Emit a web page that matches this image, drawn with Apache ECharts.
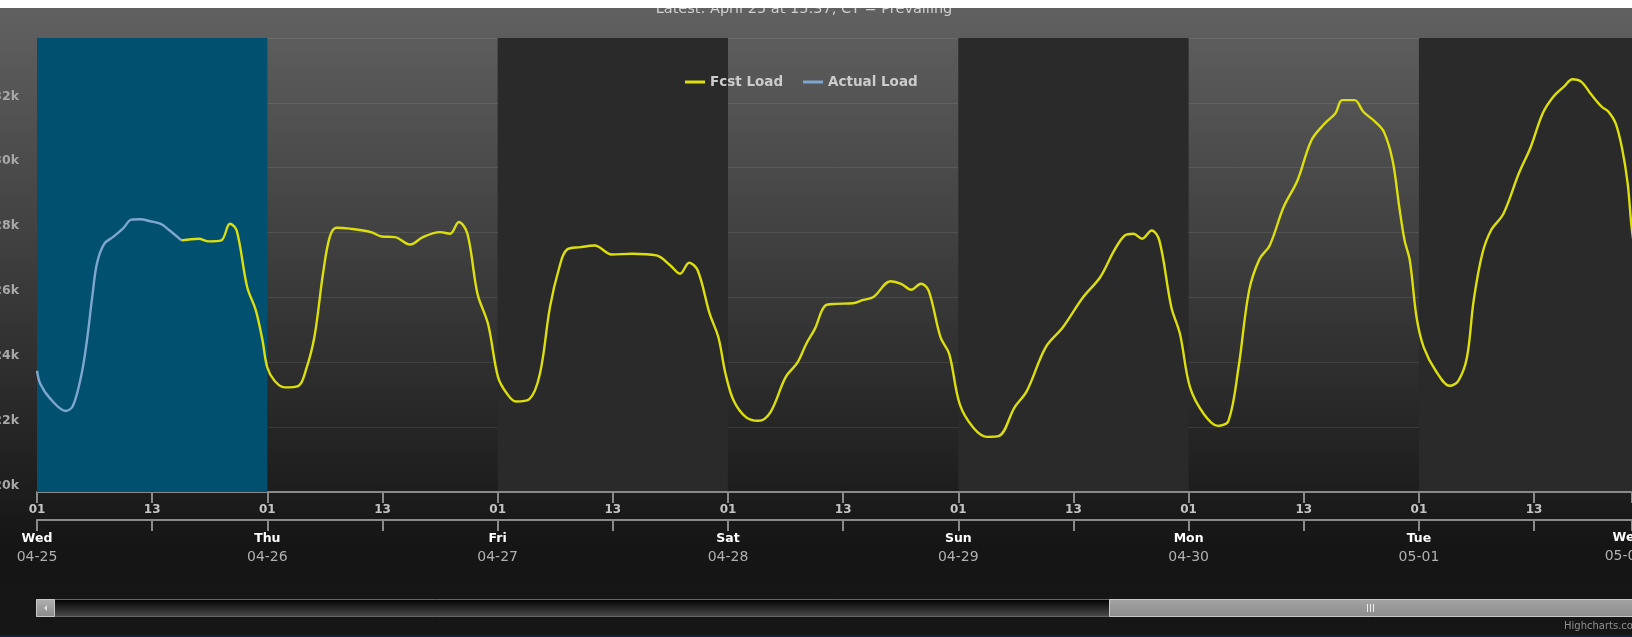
<!DOCTYPE html>
<html><head><meta charset="utf-8">
<script src="https://cdn.jsdelivr.net/npm/echarts@6/dist/echarts.min.js"></script>
<style>html,body{margin:0;padding:0;background:#fff;overflow:hidden}#c{width:1632px;height:637px}</style>
</head><body><div id="c"></div>
<script>
// hours since Wed 04-25 01:00
const actualHours = [0,0.35,1.4,3.0,3.75,4.65,5.2,5.75,6.25,7.0,7.9,8.95,9.85,10.75,11.8,12.9,13.8,15.05];
const actualValues = [23740,23330,22870,22500,22660,23650,24670,26000,27050,27650,27860,28120,28400,28410,28350,28270,28070,27760];

const fcstHours = [15.05,16.85,17.9,19.2,20.1,20.8,21.9,22.8,23.5,24.0,24.75,25.8,27.25,28.0,28.9,29.8,30.5,31.2,32.6,34.8,35.9,37.3,38.9,40.2,42.0,43.05,43.95,44.85,45.9,47.0,48.05,49.0,49.9,51.3,52.4,53.45,54.4,55.2,56.65,58.1,59.9,62.0,64.55,66.0,67.0,67.95,68.85,70.1,71.0,71.75,72.6,73.9,75.15,76.4,78.0,79.25,80.15,81.05,82.15,83.2,85.0,86.1,87.15,88.95,90.05,91.1,92.1,92.9,94.15,95.05,96.15,97.55,99.0,100.25,101.85,103.15,105.1,106.9,109.0,110.8,112.25,113.35,114.25,115.15,116.15,116.95,118.2,119.1,120.15,121.6,123.05,124.15,125.2,126.3,127.4,128.45,129.9,131.35,132.8,134.2,135.3,136.0,137.3,138.2,139.45,140.35,141.25,141.95,142.5,143.05,143.75,144.5,145.75,147.2,148.1,149.0,149.7,150.6,151.5,152.8,154.4,155.65,156.9,158.0,159.1,160.0,160.9,162.0,163.05,163.75,164.5,165.2,165.75,166.2,167.0];
const fcstValues = [27760,27810,27730,27760,28270,28070,26320,25600,24670,23840,23430,23225,23275,23740,24770,26730,27860,28150,28120,28015,27880,27860,27630,27860,28015,27965,28325,27965,26110,25180,23535,23020,22790,22865,23640,25700,26900,27470,27550,27600,27325,27345,27295,26985,26730,27070,26830,25490,24770,23640,22815,22300,22195,22450,23535,23995,24565,25030,25750,25800,25820,25925,26010,26500,26420,26235,26420,26215,24770,24260,22710,21990,21700,21730,22605,23120,24460,25080,26005,26630,27450,27910,27965,27810,28065,27760,25700,24875,23225,22400,22040,22195,23840,26210,27190,27605,28790,29615,30850,31370,31680,32085,32085,31725,31415,31105,30230,28790,27760,27140,25390,24460,23740,23275,23430,24150,25900,27345,28065,28580,29820,30640,31680,32190,32500,32730,32655,32240,31880,31725,31365,30540,29510,28065,26500];

const hourTickLabels = ['01', '13'];
const dayNames = ['Wed', 'Thu', 'Fri', 'Sat', 'Sun', 'Mon', 'Tue', 'Wed'];
const dayDates = ['04-25', '04-26', '04-27', '04-28', '04-29', '04-30', '05-01', '05-02'];
const yMin = 20000, yMax = 34000, yStep = 2000;
const seriesNames = ['Fcst Load', 'Actual Load'];
const titleText = 'Latest: April 25 at 15:37, CT = Prevailing';

const FONT = 'DejaVu Sans';
const X_MAX = 166.2;
const chart = echarts.init(document.getElementById('c'), null, {renderer: 'canvas'});

const axisLineStyle = {color: '#8a8a8a', width: 2};
const dayBandColors = ['rgba(0,0,0,0)', 'rgba(0,0,0,0)', '#2a2a2a', 'rgba(0,0,0,0)', '#2a2a2a', 'rgba(0,0,0,0)', '#2a2a2a'];

const option = {
  animation: false,
  backgroundColor: new echarts.graphic.LinearGradient(0, 0, 0, 1, [
    {offset: 0, color: '#626262'}, {offset: 0.86, color: '#151515'}, {offset: 1, color: '#161616'}
  ]),
  grid: {left: 37, right: 0, top: 38, bottom: 145, containLabel: false, outerBoundsMode: 'none'},
  legend: {
    data: seriesNames, left: 680, top: 70, icon: 'rect', itemWidth: 20, itemHeight: 3, itemGap: 20,
    textStyle: {color: '#cccccc', fontWeight: 'bold', fontSize: 13.5, fontFamily: FONT}
  },
  xAxis: [
    {
      type: 'value', min: 0, max: X_MAX, interval: 12, position: 'bottom',
      axisLine: {show: true, lineStyle: axisLineStyle},
      axisTick: {show: true, length: 11, lineStyle: axisLineStyle},
      axisLabel: {
        margin: 12, color: '#c4c4c4', fontWeight: 'bold', fontSize: 12, fontFamily: FONT,
        showMinLabel: true, showMaxLabel: true,
        formatter: v => (Math.abs(v % 12) < 1e-6 && v <= X_MAX) ? hourTickLabels[Math.round(v / 12) % 2] : ''
      },
      splitLine: {show: false}
    },
    {
      type: 'value', min: 0, max: X_MAX, interval: 12, position: 'bottom', offset: 28,
      axisLine: {show: true, lineStyle: axisLineStyle},
      axisTick: {show: true, length: 11, lineStyle: axisLineStyle},
      axisLabel: {
        margin: 11, showMinLabel: true, showMaxLabel: true,
        formatter: v => {
          if (Math.abs(v % 24) > 1e-6) return '';
          const i = Math.round(v / 24);
          return '{d|' + dayNames[i] + '}\n{m|' + dayDates[i] + '}';
        },
        rich: {
          d: {color: '#ffffff', fontWeight: 'bold', fontSize: 12.5, fontFamily: FONT, lineHeight: 16, align: 'center'},
          m: {color: '#b0b0b0', fontSize: 14, fontFamily: FONT, lineHeight: 21, align: 'center'}
        }
      },
      splitLine: {show: false}
    },
    {
      type: 'value', min: 0, max: X_MAX, interval: 24, position: 'top',
      axisLine: {show: false}, axisTick: {show: false}, axisLabel: {show: false},
      splitLine: {show: false},
      splitArea: {show: true, areaStyle: {color: dayBandColors}}
    }
  ],
  yAxis: {
    type: 'value', min: yMin, max: yMax, interval: yStep,
    axisLine: {show: false}, axisTick: {show: false},
    axisLabel: {
      formatter: v => (v / 1000) + 'k', showMaxLabel: false,
      color: '#a8a8a8', fontWeight: 'bold', fontSize: 12.5, fontFamily: FONT, margin: 18,
      verticalAlign: 'bottom', lineHeight: 13
    },
    splitLine: {lineStyle: {color: 'rgba(255,255,255,0.09)', width: 1}}
  },
  series: [
    {
      name: seriesNames[0], type: 'line', xAxisIndex: 0, z: 3,
      data: fcstHours.map((h, i) => [h, fcstValues[i]]),
      smooth: 0.35, showSymbol: false, symbol: 'none',
      lineStyle: {color: '#DDDF0D', width: 2.4}, itemStyle: {color: '#DDDF0D'}
    },
    {
      name: seriesNames[1], type: 'line', xAxisIndex: 0, z: 2,
      data: actualHours.map((h, i) => [h, actualValues[i]]),
      smooth: 0.35, showSymbol: false, symbol: 'none',
      lineStyle: {color: '#7fa6cf', width: 2.4}, itemStyle: {color: '#7fa6cf'},
      markArea: {silent: true, itemStyle: {color: '#02506f'}, data: [[{xAxis: 0}, {xAxis: 24}]]}
    }
  ],
  graphic: [
    {type: 'text', x: 804, y: 9, z: 50, style: {text: titleText, fill: '#cfcfcf', font: '14.5px "DejaVu Sans"', textAlign: 'center', textVerticalAlign: 'middle', align: 'center', verticalAlign: 'middle'}},
    {type: 'rect', z: 100, shape: {x: 0, y: 0, width: 1632, height: 8}, style: {fill: '#ffffff'}},
    {type: 'text', x: 1628, y: 538, z: 50, style: {text: dayNames[7], fill: '#ffffff', font: 'bold 12.5px "DejaVu Sans"', textAlign: 'center', textVerticalAlign: 'middle', align: 'center', verticalAlign: 'middle'}},
    {type: 'text', x: 1625, y: 556, z: 50, style: {text: dayDates[7], fill: '#b0b0b0', font: '14px "DejaVu Sans"', textAlign: 'center', textVerticalAlign: 'middle', align: 'center', verticalAlign: 'middle'}},
    // scrollbar
    {type: 'rect', z: 50, shape: {x: 36.5, y: 599.5, width: 1600, height: 17},
      style: {fill: new echarts.graphic.LinearGradient(0, 0, 0, 1, [{offset: 0, color: '#000000'}, {offset: 1, color: '#4c4c4c'}]), stroke: '#666666', lineWidth: 1}},
    {type: 'rect', z: 51, shape: {x: 36.5, y: 599.5, width: 18, height: 17},
      style: {fill: new echarts.graphic.LinearGradient(0, 0, 0, 1, [{offset: 0, color: '#b0b0b0'}, {offset: 1, color: '#8a8a8a'}]), stroke: '#c8c8c8', lineWidth: 1}},
    {type: 'polygon', z: 52, shape: {points: [[47, 605], [47, 611], [44, 608]]}, style: {fill: '#e0e0e0'}},
    {type: 'rect', z: 51, shape: {x: 1109.5, y: 599.5, width: 530, height: 17},
      style: {fill: new echarts.graphic.LinearGradient(0, 0, 0, 1, [{offset: 0, color: '#a4a4a4'}, {offset: 1, color: '#8c8c8c'}]), stroke: '#c8c8c8', lineWidth: 1}},
    {type: 'rect', z: 52, shape: {x: 1367, y: 604, width: 1, height: 8}, style: {fill: '#eeeeee'}},
    {type: 'rect', z: 52, shape: {x: 1370, y: 604, width: 1, height: 8}, style: {fill: '#eeeeee'}},
    {type: 'rect', z: 52, shape: {x: 1373, y: 604, width: 1, height: 8}, style: {fill: '#eeeeee'}},
    {type: 'text', x: 1564, y: 626, z: 50, style: {text: 'Highcharts.com', fill: '#909090', font: '10px "DejaVu Sans"', textVerticalAlign: 'middle', verticalAlign: 'middle'}},
    {type: 'rect', z: 50, shape: {x: 0, y: 635, width: 1632, height: 2}, style: {fill: '#0c2048'}}
  ]
};
chart.setOption(option);
</script>
</body></html>
